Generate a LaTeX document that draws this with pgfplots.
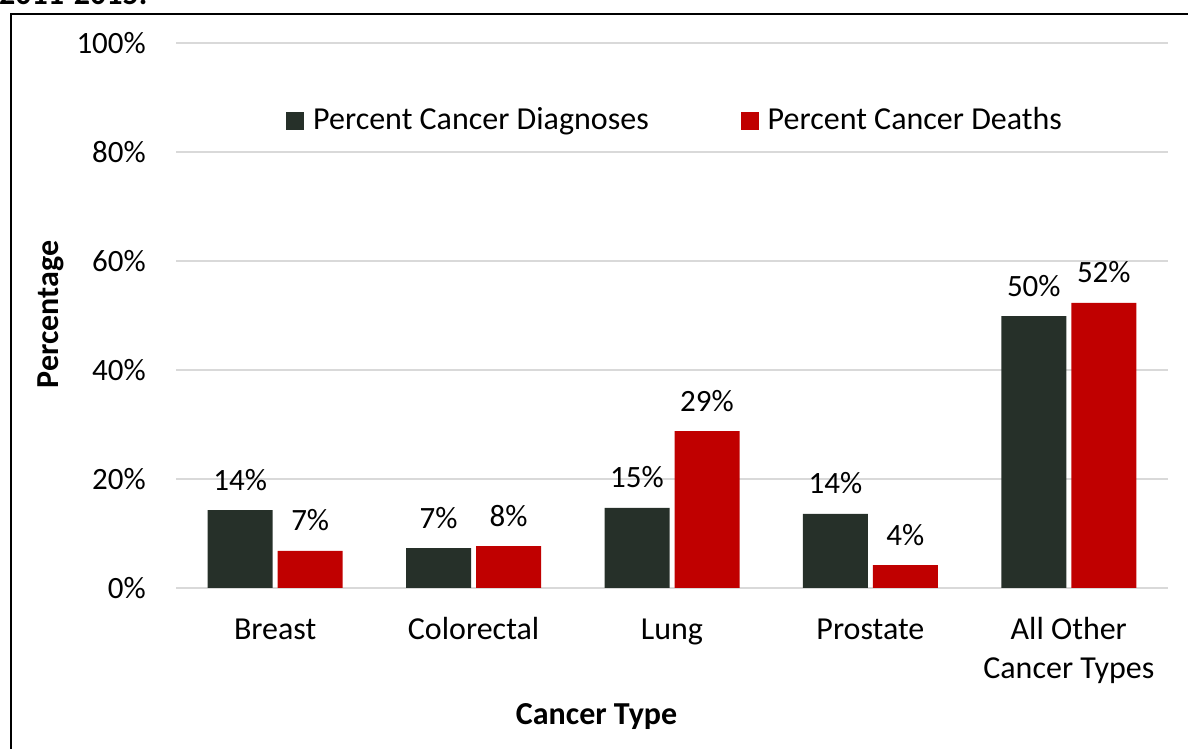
\documentclass[border=0pt]{standalone}
\usepackage{fontspec}
\setmainfont{Carlito}
\usepackage{pgfplots}
\pgfplotsset{compat=1.18}
\pgfplotsset{/pgf/number format/assume math mode=true}
\definecolor{darkbar}{HTML}{263029}
\definecolor{redbar}{HTML}{C00000}
\definecolor{gridgray}{HTML}{D9D9D9}
\newcommand{\fs}{\fontsize{32}{39.3}\selectfont}
\newcommand{\fn}{\fontsize{31}{37}\selectfont}
\pgfplotsset{sqlegend/.style={legend image code/.code={\fill[##1] (0pt,-10.5pt) rectangle (18pt,8pt);}}}
\begin{document}
\begin{tikzpicture}[x=1pt,y=1pt]
\path[use as bounding box] (0,0) rectangle (1188,749);
\clip (0,0) rectangle (1188,749);
\node[anchor=base west, inner sep=0pt, font=\fs\bfseries] at (-1,744.3) {2011-2015.};
\draw[line width=2pt] (11,-10) rectangle (1200,735);
\begin{axis}[
  at={(176pt,161pt)}, anchor=south west,
  scale only axis, width=992pt, height=545pt,
  xmin=-0.5, xmax=4.5, ymin=0, ymax=100,
  clip=false,
  ytick={0,20,...,100},
  yticklabel={\pgfmathprintnumber{\tick}\%},
  yticklabel style={font=\fn, anchor=east, inner sep=0pt, xshift=-30pt},
  xtick={0,...,4},
  xticklabels={\strut Breast,\strut Colorectal,\strut Lung,\strut Prostate,{\strut All Other\\Cancer Types}},
  xticklabel style={font=\fs, align=center, anchor=north, inner sep=0pt, yshift=-23.5pt},
  axis line style={draw=none},
  major tick length=0pt,
  ymajorgrids, grid style={gridgray, line width=1.5pt},
  ybar=5pt, bar width=65pt,
  nodes near coords={\pgfmathprintnumber[fixed,precision=0]{\pgfplotspointmeta}\%},
  every node near coord/.append style={font=\fn, anchor=base, yshift=20pt, text=black},
  xlabel={Cancer Type},
  xlabel style={font=\fs\bfseries, at={(axis description cs:0.424,-0.25)}, anchor=base},
  ylabel={Percentage},
  ylabel style={font=\fs\bfseries, at={(axis description cs:-0.126,0.502)}, anchor=center},
  legend columns=2,
  legend style={at={(axis description cs:0.1109,0.8595)}, anchor=west, draw=none, fill=none,
    font=\fs, inner sep=0pt, nodes={inner sep=0pt},
    /tikz/every odd column/.append style={column sep=9pt},
    /tikz/every even column/.append style={column sep=92pt}},
]
\addplot[fill=darkbar, draw=none, sqlegend] coordinates {(0,14.3) (1,7.3) (2,14.7) (3,13.6) (4,49.9)};
\addlegendentry{Percent Cancer Diagnoses}
\addplot[fill=redbar, draw=none, sqlegend] coordinates {(0,6.8) (1,7.7) (2,28.8) (3,4.2) (4,52.3)};
\addlegendentry{Percent Cancer Deaths}
\end{axis}
\end{tikzpicture}
\end{document}
